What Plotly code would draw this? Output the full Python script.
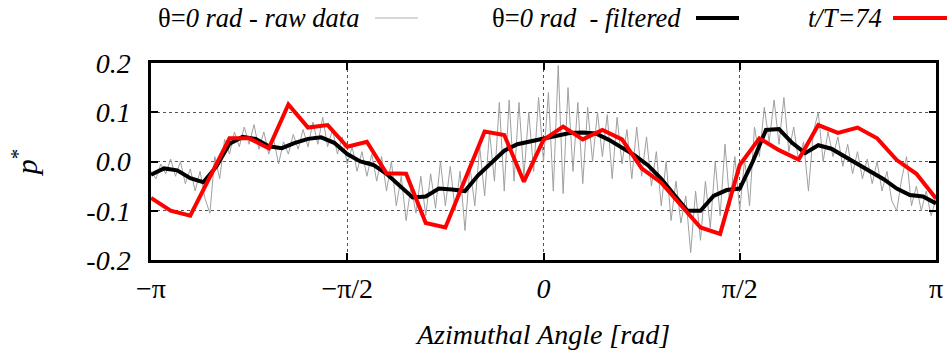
import numpy as np
import plotly.graph_objects as go

# ---------------- data ----------------
raw_p = [
    -0.02, -0.035, -0.005, -0.025, 0.005, -0.03, 0.0, -0.045, -0.015, -0.06,
    -0.02, -0.075, -0.105, 0.01, -0.035, 0.045, 0.015, 0.06, 0.03, 0.07,
    0.035, 0.075, 0.025, 0.06, 0.015, 0.045, -0.005, 0.04, 0.015, 0.055,
    0.025, 0.065, 0.03, 0.08, 0.035, 0.09, 0.03, 0.065, 0.015, 0.05,
    -0.005, 0.03, -0.02, 0.02, -0.03, 0.015, -0.04, 0.01, -0.06, 0.0,
    -0.09, -0.03, -0.12, -0.05, -0.105, -0.03, -0.11, -0.025, -0.095, 0.0,
    -0.09, -0.01, -0.1, -0.02, -0.14, -0.01, -0.09, 0.03, -0.07, 0.06,
    -0.04, 0.12, -0.06, 0.125, -0.04, 0.12, -0.03, 0.1, -0.02, 0.13,
    0.0, 0.14, -0.06, 0.195, -0.065, 0.15, -0.02, 0.12, -0.045, 0.11,
    0.0, 0.1, 0.01, 0.095, -0.035, 0.09, -0.005, 0.065, -0.035, 0.07,
    -0.03, 0.05, -0.05, 0.02, -0.09, 0.0, -0.12, -0.04, -0.125, -0.07,
    -0.185, -0.06, -0.16, -0.04, -0.135, 0.0, -0.11, 0.035, -0.09, 0.01,
    -0.1, 0.005, -0.09, 0.07, 0.01, 0.11, 0.04, 0.125, 0.035, 0.13,
    0.02, 0.07, 0.0, 0.04, -0.06, 0.06, 0.1, 0.0, 0.06, 0.01,
    0.05, -0.01, 0.035, -0.025, 0.02, -0.035, 0.005, -0.045, 0.0, -0.06,
    -0.02, -0.08, -0.1, -0.035, 0.01, -0.09, -0.05, -0.1, -0.06, -0.11,
    -0.075,
]

filtered_p = [
    -0.027, -0.014, -0.018, -0.034, -0.042, -0.010, 0.036, 0.050, 0.046, 0.031,
    0.027, 0.038, 0.046, 0.049, 0.038, 0.015, 0.000, -0.007, -0.025, -0.050,
    -0.073, -0.071, -0.055, -0.057, -0.060, -0.028, -0.003, 0.022, 0.035, 0.041,
    0.046, 0.052, 0.058, 0.059, 0.057, 0.044, 0.028, 0.012, -0.008, -0.035,
    -0.068, -0.100, -0.100, -0.070, -0.058, -0.055, 0.000, 0.064, 0.066, 0.038,
    0.017, 0.033, 0.026, 0.011, -0.006, -0.019, -0.036, -0.055, -0.068, -0.071,
    -0.085,
]

t74_p = [
    -0.074, -0.100, -0.110, -0.032, 0.047, 0.047, 0.027, 0.116, 0.069, 0.074,
    0.030, 0.040, -0.024, -0.025, -0.125, -0.134, -0.035, 0.061, 0.054, -0.041,
    0.044, 0.071, 0.045, 0.064, 0.045, -0.014, -0.043, -0.090, -0.134, -0.147,
    -0.007, 0.047, 0.023, 0.004, 0.074, 0.058, 0.069, 0.047, 0.003, -0.025,
    -0.075,
]

x_tick_vals = [-np.pi, -np.pi / 2, 0, np.pi / 2, np.pi]
x_tick_text = ["\u2212\u03c0", "\u2212\u03c0/2", "<i>0</i>", "\u03c0/2", "\u03c0"]
y_tick_vals = [-0.2, -0.1, 0.0, 0.1, 0.2]
y_tick_text = ["-0.2", "-0.1", "0.0", "0.1", "0.2"]

legend_labels = ["\u03b8=<i>0 rad - raw data</i>", "\u03b8=<i>0 rad  - filtered</i>", "<i>t/T=74</i>"]

# -------------- figure ----------------
x_raw = np.linspace(-np.pi, np.pi, len(raw_p))
x_fil = np.linspace(-np.pi, np.pi, len(filtered_p))
x_t74 = np.linspace(-np.pi, np.pi, len(t74_p))

FONT = "Liberation Serif"
fig = go.Figure()
fig.add_trace(go.Scatter(x=x_raw, y=raw_p, mode="lines",
                         line=dict(color="#a0a0a0", width=1), showlegend=False))
fig.add_trace(go.Scatter(x=x_fil, y=filtered_p, mode="lines",
                         line=dict(color="black", width=4), showlegend=False))
fig.add_trace(go.Scatter(x=x_t74, y=t74_p, mode="lines",
                         line=dict(color="#ff0000", width=4), showlegend=False))

L, R, T, B = 151, 11, 63, 90
W, H = 947, 350
pw, ph = W - L - R, H - T - B


def px2paper_x(px):
    return (px - L) / pw


def py2paper_y(py):
    return (H - B - py) / ph


# custom legend (text left of sample, gnuplot style)
leg_text_right = [361, 683, 884]
leg_sample = [(375, 418), (696, 739), (893, 947)]
leg_colors = ["#c8c8c8", "black", "#ff0000"]
leg_widths = [1.5, 4, 4]
leg_y = 18
for lab, tx, (s0, s1), c, w in zip(legend_labels, leg_text_right, leg_sample, leg_colors, leg_widths):
    fig.add_annotation(x=px2paper_x(tx), y=py2paper_y(leg_y), xref="paper", yref="paper",
                       text=lab, showarrow=False, xanchor="right", yanchor="middle",
                       font=dict(family=FONT, size=26.5, color="black"))
    fig.add_shape(type="line", xref="paper", yref="paper",
                  x0=px2paper_x(s0), x1=px2paper_x(s1),
                  y0=py2paper_y(leg_y), y1=py2paper_y(leg_y),
                  line=dict(color=c, width=w))

axis_common = dict(showline=True, linecolor="black", linewidth=2.5, mirror="ticks",
                   ticks="inside", ticklen=7, tickwidth=2, tickcolor="black",
                   showgrid=True, gridcolor="#555555", griddash="dot", gridwidth=1,
                   zeroline=False, automargin=False)

fig.update_xaxes(range=[-np.pi, np.pi], tickmode="array", tickvals=x_tick_vals,
                 ticktext=x_tick_text,
                 tickfont=dict(family=FONT, size=28, color="black"),
                 ticklabelstandoff=2,
                 title=dict(text="Azimuthal Angle [rad]",
                            font=dict(family=FONT, size=28, color="black", style="italic"),
                            standoff=22),
                 **axis_common)
fig.update_yaxes(range=[-0.2, 0.2], tickmode="array", tickvals=y_tick_vals,
                 ticktext=y_tick_text,
                 tickfont=dict(family=FONT, size=28, color="black", style="italic"),
                 ticklabelstandoff=12,
                 title=dict(text="<i>p</i><sup>*</sup>",
                            font=dict(family=FONT, size=30, color="black"),
                            standoff=40),
                 **axis_common)

fig.update_layout(width=W, height=H, margin=dict(l=L, r=R, t=T, b=B),
                  paper_bgcolor="white", plot_bgcolor="white",
                  showlegend=False)

# remove the default 8px page margin so the figure sits at the window's corner
fig.write_html("out.html", config={"displayModeBar": False},
               post_script="document.body.style.margin='0';")
